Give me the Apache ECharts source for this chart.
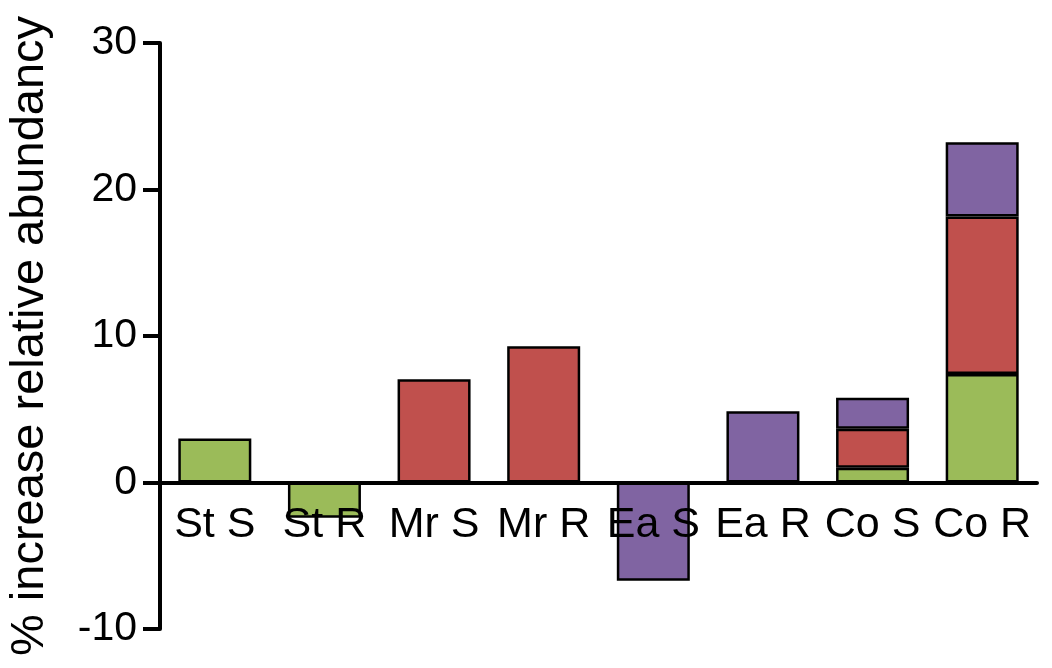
<!DOCTYPE html>
<html>
<head>
<meta charset="utf-8">
<script src="https://cdn.jsdelivr.net/npm/echarts@6/dist/echarts.min.js"></script>
<style>
  html, body { margin: 0; padding: 0; background: #fff; }
  #chart { width: 1052px; height: 668px; }
</style>
</head>
<body>
<div id="chart"></div>
<script>
// Groups along the x axis
const categories = ['St S', 'St R', 'Mr S', 'Mr R', 'Ea S', 'Ea R', 'Co S', 'Co R'];

// Stacked contributions (% increase), bottom to top: green, red, purple
const greenValues  = [3.0, -2.4, null, null, null, null, 1.0, 7.4];
const redValues    = [null, null, 7.05, 9.3, null, null, 2.67, 10.76];
const purpleValues = [null, null, null, null, -6.7, 4.87, 2.11, 5.07];

// Y axis range and tick step
const yMin = -10;
const yMax = 30;
const yStep = 10;

const yTitle = '% increase relative abundancy';

const FONT = "'Liberation Sans', Arial, Helvetica, sans-serif";

// Plot box
const GRID = { left: 160, right: 15, top: 43, bottom: 39 };
const plotHeight = 668 - GRID.top - GRID.bottom;
// The category axis sits on the zero line; shift it up from the bottom edge
const zeroOffset = -plotHeight * (0 - yMin) / (yMax - yMin);

const chart = echarts.init(document.getElementById('chart'), null, { renderer: 'canvas' });

function barSeries(name, data, color) {
  return {
    name: name,
    type: 'bar',
    stack: 'total',
    data: data,
    barWidth: 73,
    itemStyle: { color: color, borderColor: '#000', borderWidth: 2.5 },
    emphasis: { disabled: true },
    animation: false
  };
}

chart.setOption({
  backgroundColor: '#fff',
  animation: false,
  grid: {
    left: GRID.left, right: GRID.right, top: GRID.top, bottom: GRID.bottom,
    containLabel: false,
    outerBoundsMode: 'none'
  },
  xAxis: {
    type: 'category',
    data: categories,
    position: 'bottom',
    offset: zeroOffset,
    z: 10,
    axisLine: { onZero: false, lineStyle: { color: '#000', width: 4 } },
    axisTick: { show: false },
    axisLabel: {
      color: '#000', fontSize: 43, fontFamily: FONT, margin: 21, interval: 0
    },
    splitLine: { show: false }
  },
  yAxis: {
    type: 'value',
    min: yMin,
    max: yMax,
    interval: yStep,
    name: yTitle,
    nameLocation: 'middle',
    nameRotate: 90,
    nameGap: 106,
    nameTextStyle: { color: '#000', fontSize: 47, fontFamily: FONT },
    axisLine: { show: true, lineStyle: { color: '#000', width: 4 } },
    axisTick: { show: true, inside: false, length: 17, lineStyle: { color: '#000', width: 4 } },
    axisLabel: { color: '#000', fontSize: 41, fontFamily: FONT, margin: 23 },
    splitLine: { show: false }
  },
  series: [
    barSeries('green', greenValues, '#9BBB59'),
    barSeries('red', redValues, '#C0504D'),
    barSeries('purple', purpleValues, '#8064A2')
  ]
});
</script>
</body>
</html>
